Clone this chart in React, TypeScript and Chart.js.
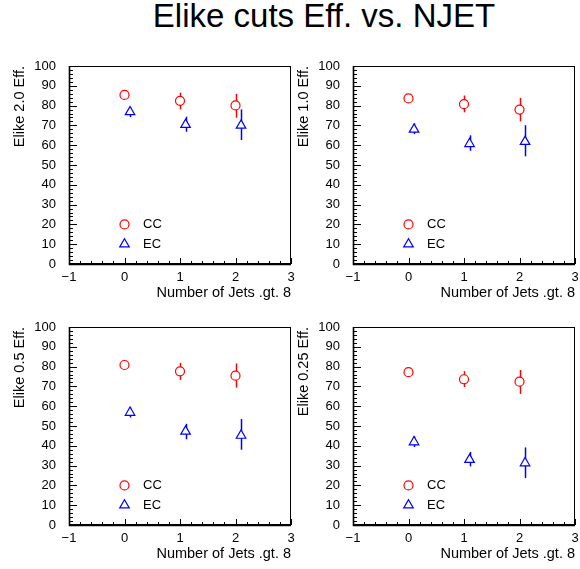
import React, { useEffect, useRef } from "react";
import { Chart, registerables } from "chart.js";

Chart.register(...registerables);

// ---------- data ----------
const xCC = [0, 1, 2];
const xEC = [0.1, 1.1, 2.1];

const yTitles = ["Elike 2.0 Eff.", "Elike 1.0 Eff.", "Elike 0.5 Eff.", "Elike 0.25 Eff."];
const xTitle = "Number of Jets .gt. 8";
const mainTitle = "Elike cuts Eff. vs. NJET";
const legendLabels = ["CC", "EC"];

// Elike 2.0
const cc20 = [85.4, 82.4, 80.1];
const cc20Up = [1.5, 4.1, 5.8];
const cc20Dn = [1.5, 4.3, 6.2];
const ec20 = [76.8, 70.4, 70.0];
const ec20Up = [2.4, 4.0, 8.1];
const ec20Dn = [2.6, 3.6, 7.4];

// Elike 1.0
const cc10 = [83.6, 80.7, 78.0];
const cc10Up = [1.5, 4.4, 5.9];
const cc10Dn = [1.5, 4.1, 6.0];
const ec10 = [68.0, 60.7, 61.8];
const ec10Up = [3.0, 4.3, 8.3];
const ec10Dn = [2.4, 3.5, 7.4];

// Elike 0.5
const cc05 = [80.8, 77.6, 75.4];
const cc05Up = [1.5, 4.3, 6.2];
const cc05Dn = [1.5, 4.3, 6.0];
const ec05 = [56.8, 47.3, 45.2];
const ec05Up = [2.7, 3.8, 8.3];
const ec05Dn = [2.5, 4.0, 7.2];

// Elike 0.25
const cc025 = [77.2, 73.6, 72.4];
const cc025Up = [1.5, 4.1, 5.9];
const cc025Dn = [1.5, 3.9, 6.2];
const ec025 = [41.9, 33.0, 31.3];
const ec025Up = [2.9, 3.9, 7.9];
const ec025Dn = [2.5, 3.4, 7.6];

const panels = [
  { title: yTitles[0], cc: cc20, ccUp: cc20Up, ccDn: cc20Dn, ec: ec20, ecUp: ec20Up, ecDn: ec20Dn },
  { title: yTitles[1], cc: cc10, ccUp: cc10Up, ccDn: cc10Dn, ec: ec10, ecUp: ec10Up, ecDn: ec10Dn },
  { title: yTitles[2], cc: cc05, ccUp: cc05Up, ccDn: cc05Dn, ec: ec05, ecUp: ec05Up, ecDn: ec05Dn },
  { title: yTitles[3], cc: cc025, ccUp: cc025Up, ccDn: cc025Dn, ec: ec025, ecUp: ec025Up, ecDn: ec025Dn },
];

// ---------- style ----------
const FONT = "'Liberation Sans', Arial, Helvetica, sans-serif";
const RED = "#ff0000";
const BLUE = "#0000ff";
const CANVAS_W = 295;
const CANVAS_H = 265;

const errorBarPlugin = {
  id: "errorBars",
  beforeDatasetsDraw(chart: any) {
    const ctx = chart.ctx;
    const xs = chart.scales.x;
    const ys = chart.scales.y;
    ctx.save();
    chart.data.datasets.forEach((ds: any) => {
      ctx.strokeStyle = ds.borderColor;
      ctx.lineWidth = 1.5;
      ds.data.forEach((p: any, i: number) => {
        const px = Math.round(xs.getPixelForValue(p.x)) + 0.5;
        const top = ys.getPixelForValue(p.y + ds.errUp[i]);
        const bot = ys.getPixelForValue(p.y - ds.errDn[i]);
        ctx.beginPath();
        ctx.moveTo(px, top);
        ctx.lineTo(px, bot);
        ctx.stroke();
      });
    });
    ctx.restore();
  },
};

const framePlugin = {
  id: "rootFrame",
  afterDraw(chart: any) {
    const ctx = chart.ctx;
    const { left, right, top, bottom } = chart.chartArea;
    const xs = chart.scales.x;
    const ys = chart.scales.y;
    ctx.save();
    ctx.strokeStyle = "#000";
    ctx.lineWidth = 1;
    for (let v = 0; v <= 100; v += 2) {
      const py = Math.round(ys.getPixelForValue(v)) + 0.5;
      const len = v % 10 === 0 ? 8 : 4;
      ctx.beginPath();
      ctx.moveTo(left, py);
      ctx.lineTo(left + len, py);
      ctx.stroke();
    }
    for (let k = -5; k <= 15; k++) {
      const v = k / 5;
      const px = Math.round(xs.getPixelForValue(v)) + 0.5;
      const len = k % 5 === 0 ? 6 : 3;
      ctx.beginPath();
      ctx.moveTo(px, bottom);
      ctx.lineTo(px, bottom - len);
      ctx.stroke();
    }
    ctx.lineWidth = 1;
    ctx.strokeRect(Math.round(left) + 0.5, Math.round(top) + 0.5, Math.round(right - left) - 1, Math.round(bottom - top) - 1);
    ctx.lineWidth = 1.6;
    ctx.beginPath();
    ctx.moveTo(left + 0.5, top);
    ctx.lineTo(left + 0.5, bottom + 0.5);
    ctx.lineTo(right, bottom + 0.5);
    ctx.stroke();

    // legend
    const mx = xs.getPixelForValue(0);
    const rows = [ys.getPixelForValue(20), ys.getPixelForValue(10)];
    ctx.lineWidth = 1.2;
    ctx.strokeStyle = RED;
    ctx.beginPath();
    ctx.arc(mx, rows[0], 4.5, 0, Math.PI * 2);
    ctx.stroke();
    ctx.strokeStyle = BLUE;
    const r = 5.5;
    ctx.beginPath();
    ctx.moveTo(mx, rows[1] - r);
    ctx.lineTo(mx + r * Math.sin((2 * Math.PI) / 3), rows[1] + r / 2);
    ctx.lineTo(mx - r * Math.sin((2 * Math.PI) / 3), rows[1] + r / 2);
    ctx.closePath();
    ctx.stroke();
    ctx.fillStyle = "#000";
    ctx.font = `13px ${FONT}`;
    ctx.textBaseline = "middle";
    ctx.textAlign = "left";
    ctx.fillText(legendLabels[0], mx + 18.5, rows[0]);
    ctx.fillText(legendLabels[1], mx + 18.5, rows[1]);
    ctx.restore();
  },
};

function Panel({ p, left, top }: { p: any; left: number; top: number }) {
  const ref = useRef<HTMLCanvasElement | null>(null);
  useEffect(() => {
    if (!ref.current) return;
    const chart = new Chart(ref.current, {
      type: "scatter",
      data: {
        datasets: [
          {
            label: legendLabels[0],
            data: xCC.map((x, i) => ({ x, y: p.cc[i] })),
            errUp: p.ccUp,
            errDn: p.ccDn,
            pointStyle: "circle",
            pointRadius: 4.5,
            borderColor: RED,
            backgroundColor: "#ffffff",
            borderWidth: 1.2,
            showLine: false,
          } as any,
          {
            label: legendLabels[1],
            data: xEC.map((x, i) => ({ x, y: p.ec[i] })),
            errUp: p.ecUp,
            errDn: p.ecDn,
            pointStyle: "triangle",
            pointRadius: 5.5,
            borderColor: BLUE,
            backgroundColor: "#ffffff",
            borderWidth: 1.2,
            showLine: false,
          } as any,
        ],
      },
      options: {
        responsive: false,
        animation: false,
        devicePixelRatio: 1,
        layout: { autoPadding: false, padding: { top: 26, right: 4, left: 0, bottom: 0 } },
        plugins: { legend: { display: false }, tooltip: { enabled: false } },
        scales: {
          x: {
            type: "linear",
            min: -1,
            max: 3,
            grid: { display: false, drawTicks: false },
            border: { display: false },
            ticks: {
              stepSize: 1,
              color: "#000",
              padding: 6,
              maxRotation: 0,
              autoSkip: false,
              font: { family: FONT, size: 13 },
              callback: (v: any) => String(v).replace("-", "\u2212"),
            },
            title: {
              display: true,
              text: xTitle,
              align: "end",
              color: "#000",
              font: { family: FONT, size: 14.5 },
              padding: { top: 0, bottom: 3 },
            },
            afterFit: (s: any) => {
              s.height = 41;
              s.paddingLeft = 0;
              s.paddingRight = 0;
            },
          },
          y: {
            type: "linear",
            min: 0,
            max: 100,
            grid: { display: false, drawTicks: false },
            border: { display: false },
            ticks: {
              stepSize: 10,
              color: "#000",
              padding: 13,
              autoSkip: false,
              font: { family: FONT, size: 13 },
            },
            title: {
              display: true,
              text: p.title,
              align: "end",
              color: "#000",
              font: { family: FONT, size: 14.5 },
              padding: { top: 11, bottom: 0 },
            },
            afterFit: (s: any) => {
              s.width = 69;
              s.paddingTop = 0;
              s.paddingBottom = 0;
            },
          },
        },
      } as any,
      plugins: [errorBarPlugin, framePlugin],
    });
    return () => chart.destroy();
  }, [p]);
  return (
    <canvas
      ref={ref}
      width={CANVAS_W}
      height={CANVAS_H}
      style={{ position: "absolute", left, top, width: CANVAS_W, height: CANVAS_H }}
    />
  );
}

export default function App() {
  const pos = [
    { left: 0, top: 40 },
    { left: 284, top: 40 },
    { left: 0, top: 301 },
    { left: 284, top: 301 },
  ];
  return (
    <div
      style={{
        position: "absolute",
        left: 0,
        top: 0,
        width: 580,
        height: 569,
        background: "#fff",
        overflow: "hidden",
      }}
    >
      <div
        style={{
          position: "absolute",
          left: 324,
          top: 0,
          transform: "translateX(-50%)",
          whiteSpace: "nowrap",
          fontFamily: FONT,
          fontSize: 33,
          lineHeight: "32px",
          color: "#000",
        }}
      >
        {mainTitle}
      </div>
      {panels.map((p, i) => (
        <Panel key={i} p={p} left={pos[i].left} top={pos[i].top} />
      ))}
    </div>
  );
}
